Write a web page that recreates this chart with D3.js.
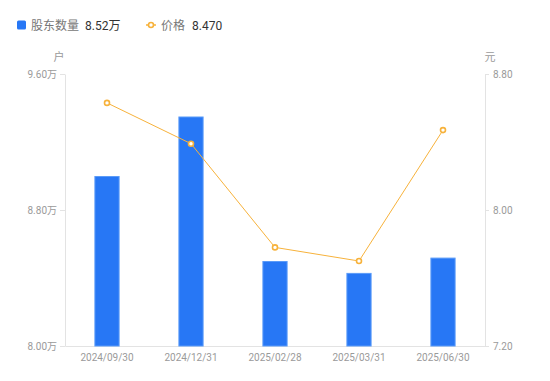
<!DOCTYPE html>
<html><head><meta charset="utf-8">
<script src="https://cdn.jsdelivr.net/npm/d3@7/dist/d3.min.js"></script>
<style>body{margin:0;background:#fff;}svg{display:block;font-family:"Noto Sans CJK SC","Noto Sans",sans-serif;}</style>
</head><body><svg id="c" width="550" height="381"></svg>
<script>
const categories = ["2024/09/30","2024/12/31","2025/02/28","2025/03/31","2025/06/30"];
const holders = [9.00, 9.35, 8.50, 8.43, 8.52];
const prices = [8.63, 8.39, 7.78, 7.70, 8.47];
const leftTicks = [8.00, 8.80, 9.60];
const rightTicks = [7.20, 8.00, 8.80];
const legendNames = ["股东数量", "价格"];
const legendValues = ["8.52万", "8.470"];

const svg = d3.select("#c");
const L = 65, R = 485, T = 74, B = 346;
const x = d3.scaleBand().domain(categories).range([L, R]).paddingInner(0.7).paddingOuter(0.35);
const xc = d => x(d) + x.bandwidth()/2;
const yL = d3.scaleLinear().domain([8.0, 9.6]).range([B, T]);
const yR = d3.scaleLinear().domain([7.2, 8.8]).range([B, T]);
const axisColor = "#e3e3e3", tickText = "#9a9a9a";
const blue = "#2777f5", orange = "#f7b23b";

// left axis
const gl = svg.append("g").attr("transform", `translate(${L},0)`)
  .call(d3.axisLeft(yL).tickValues(leftTicks).tickSize(5).tickSizeOuter(0).tickPadding(3).tickFormat(d => d3.format(".2f")(d) + "万"));
gl.select(".domain").attr("stroke", axisColor);
gl.selectAll(".tick line").attr("stroke", axisColor);
gl.selectAll(".tick text").attr("fill", tickText).style("font-size", "10px").style("font-family", "Roboto, 'Noto Sans CJK SC', sans-serif");

// right axis
const gr = svg.append("g").attr("transform", `translate(${R},0)`)
  .call(d3.axisRight(yR).tickValues(rightTicks).tickSize(4).tickSizeOuter(0).tickPadding(4).tickFormat(d3.format(".2f")));
gr.select(".domain").attr("stroke", axisColor);
gr.selectAll(".tick line").attr("stroke", axisColor);
gr.selectAll(".tick text").attr("fill", tickText).style("font-size", "10px").style("font-family", "Roboto, sans-serif");

// bottom axis
const gb = svg.append("g").attr("transform", `translate(0,${B})`)
  .call(d3.axisBottom(x).tickSize(0).tickPadding(8));
gb.select(".domain").attr("stroke", axisColor);
gb.selectAll(".tick text").attr("fill", tickText).style("font-size", "10px").style("font-family", "Roboto, sans-serif");

// unit labels
svg.append("text").attr("x", 59).attr("y", 61).attr("text-anchor", "middle").attr("fill", tickText).style("font-size", "11px").text("户");
svg.append("text").attr("x", 490).attr("y", 61).attr("text-anchor", "middle").attr("fill", tickText).style("font-size", "11px").text("元");

// bars
svg.append("g").selectAll("rect").data(holders).join("rect")
  .attr("x", (d,i) => x(categories[i]) + 0.5)
  .attr("y", d => yL(d) + 0.5)
  .attr("width", x.bandwidth() - 1)
  .attr("height", d => B - yL(d) - 0.5)
  .attr("fill", blue).attr("stroke", "#5b9bf8").attr("stroke-width", 1);

// line
const line = d3.line().x((d,i) => xc(categories[i])).y(d => yR(d));
svg.append("path").datum(prices).attr("d", line).attr("fill", "none").attr("stroke", orange).attr("stroke-width", 1);
svg.append("g").selectAll("circle").data(prices).join("circle")
  .attr("cx", (d,i) => xc(categories[i])).attr("cy", d => yR(d)).attr("r", 2.5)
  .attr("fill", "#fff").attr("stroke", orange).attr("stroke-width", 1.6);

// legend
const lg = svg.append("g");
lg.append("rect").attr("x", 17).attr("y", 20.5).attr("width", 9).attr("height", 9).attr("rx", 1.5).attr("fill", blue);
lg.append("text").attr("x", 31).attr("y", 29.5).attr("fill", "#777").style("font-size", "12px").text(legendNames[0]);
lg.append("text").attr("x", 85).attr("y", 29.5).attr("fill", "#333").style("font-size", "12px").style("font-family", "Roboto, 'Noto Sans CJK SC', sans-serif").text(legendValues[0]);
lg.append("line").attr("x1", 146).attr("x2", 156).attr("y1", 25).attr("y2", 25).attr("stroke", orange).attr("stroke-width", 1.5);
lg.append("circle").attr("cx", 151).attr("cy", 25).attr("r", 2.5).attr("fill", "#fff").attr("stroke", orange).attr("stroke-width", 1.6);
lg.append("text").attr("x", 161).attr("y", 29.5).attr("fill", "#777").style("font-size", "12px").text(legendNames[1]);
lg.append("text").attr("x", 192).attr("y", 29.5).attr("fill", "#333").style("font-size", "12px").style("font-family", "Roboto, sans-serif").text(legendValues[1]);
</script></body></html>
